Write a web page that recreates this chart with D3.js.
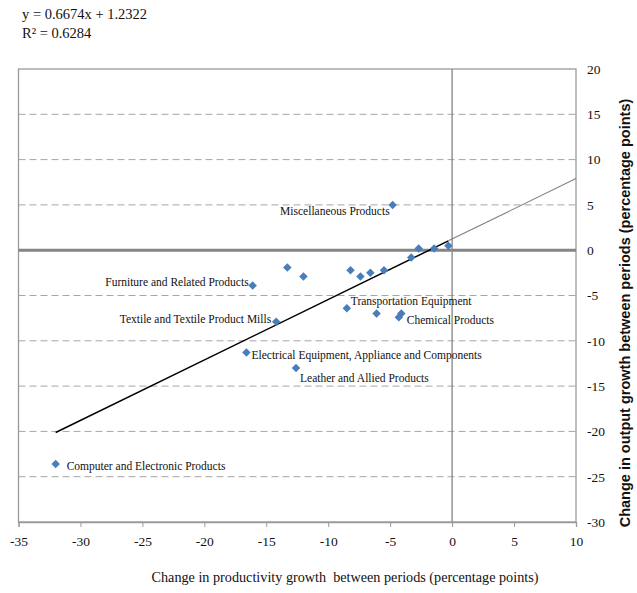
<!DOCTYPE html>
<html>
<head>
<meta charset="utf-8">
<script src="https://cdn.jsdelivr.net/npm/d3@7"></script>
<style>
  html, body { margin: 0; padding: 0; background: #fff; }
  svg { display: block; }
</style>
</head>
<body>
<svg id="chart" width="637" height="593"></svg>
<script>
// Industries (blank name = unlabelled point)
const industries = [
  "Computer and Electronic Products",
  "Electrical Equipment, Appliance and Components",
  "Leather and Allied Products",
  "Textile and Textile Product Mills",
  "Furniture and Related Products",
  "",
  "",
  "Miscellaneous Products",
  "",
  "",
  "",
  "",
  "",
  "",
  "",
  "",
  "Transportation Equipment",
  "",
  "Chemical Products",
  ""
];
// Change in productivity growth between periods (percentage points)
const productivityChange = [
  -32.0, -16.6, -12.6, -14.2, -16.1, -13.3, -12.0, -4.8, -2.7, -1.45,
  -0.3, -3.3, -8.2, -7.4, -6.6, -5.5, -8.5, -6.1, -4.3, -4.1
];
// Change in output growth between periods (percentage points)
const outputChange = [
  -23.6, -11.3, -13.0, -7.9, -3.9, -1.9, -2.9, 5.0, 0.2, 0.2,
  0.5, -0.8, -2.2, -2.9, -2.5, -2.2, -6.4, -7.0, -7.4, -7.0
];
// Axis ticks
const xTicks = [-35, -30, -25, -20, -15, -10, -5, 0, 5, 10];
const yTicks = [20, 15, 10, 5, 0, -5, -10, -15, -20, -25, -30];
// Fitted linear trend
const slope = 0.6674;
const intercept = 1.2322;
const rSquared = 0.6284;

// Where each label sits relative to its point
const labelPlacement = {
  "Computer and Electronic Products": { anchor: "start", dx: 11, dy: 3 },
  "Electrical Equipment, Appliance and Components": { anchor: "start", dx: 5, dy: 4 },
  "Leather and Allied Products": { anchor: "start", dx: 4, dy: 11 },
  "Textile and Textile Product Mills": { anchor: "end", dx: -5, dy: -1 },
  "Furniture and Related Products": { anchor: "end", dx: -4, dy: -2 },
  "Miscellaneous Products": { anchor: "end", dx: -3, dy: 7 },
  "Transportation Equipment": { anchor: "start", dx: 4, dy: -6 },
  "Chemical Products": { anchor: "start", dx: 8, dy: 4 }
};

const SERIF = "'Liberation Serif', 'Times New Roman', serif";
const svg = d3.select("#chart");
const plotLeft = 18.5, plotRight = 576, plotTop = 69, plotBottom = 522;

const x = d3.scaleLinear().domain([-35, 10]).range([plotLeft, plotRight]);
const y = d3.scaleLinear().domain([-30, 20]).range([plotBottom, plotTop]);

// Dashed horizontal gridlines
svg.append("g")
  .selectAll("line")
  .data(yTicks.filter(v => v !== 0 && v !== 20 && v !== -30))
  .join("line")
  .attr("x1", plotLeft).attr("x2", plotRight)
  .attr("y1", d => y(d)).attr("y2", d => y(d))
  .attr("stroke", "#a6a6a6")
  .attr("stroke-width", 1)
  .attr("stroke-dasharray", "7,4");

// Plot frame
svg.append("rect")
  .attr("x", plotLeft).attr("y", plotTop)
  .attr("width", plotRight - plotLeft).attr("height", plotBottom - plotTop)
  .attr("fill", "none")
  .attr("stroke", "#9a9a9a")
  .attr("stroke-width", 1.3);

// Zero lines
svg.append("line")
  .attr("x1", plotLeft).attr("x2", plotRight)
  .attr("y1", y(0)).attr("y2", y(0))
  .attr("stroke", "#858585").attr("stroke-width", 3);
svg.append("line")
  .attr("x1", x(0)).attr("x2", x(0))
  .attr("y1", plotTop).attr("y2", plotBottom)
  .attr("stroke", "#8c8c8c").attr("stroke-width", 1.4);

// Bottom axis
const xAxis = d3.axisBottom(x).tickValues(xTicks).tickSize(5).tickPadding(9)
  .tickFormat(d => String(d));
const gx = svg.append("g").attr("transform", `translate(0,${plotBottom})`).call(xAxis);
gx.attr("font-family", SERIF).attr("font-size", 13.5);
gx.select(".domain").attr("stroke", "#9a9a9a").attr("stroke-width", 1.3);
gx.selectAll(".tick line").attr("stroke", "#9a9a9a");
gx.selectAll(".tick text").attr("fill", "#111");

// Right axis
const yAxis = d3.axisRight(y).tickValues(yTicks).tickSize(0).tickPadding(11)
  .tickFormat(d => String(d));
const gy = svg.append("g").attr("transform", `translate(${plotRight},0)`).call(yAxis);
gy.attr("font-family", SERIF).attr("font-size", 13.5);
gy.select(".domain").remove();
gy.selectAll(".tick text").attr("fill", "#111");

// Trend line: solid over the data range, lighter forward extension
const xMin = d3.min(productivityChange), xMax = d3.max(productivityChange);
const trend = v => slope * v + intercept;
svg.append("line")
  .attr("x1", x(xMin)).attr("y1", y(trend(xMin)))
  .attr("x2", x(xMax)).attr("y2", y(trend(xMax)))
  .attr("stroke", "#000").attr("stroke-width", 1.5);
svg.append("line")
  .attr("x1", x(xMax)).attr("y1", y(trend(xMax)))
  .attr("x2", x(10)).attr("y2", y(trend(10)))
  .attr("stroke", "#7f7f7f").attr("stroke-width", 1.1);

// Points as diamonds
const points = industries.map((name, i) => ({
  name, px: productivityChange[i], py: outputChange[i]
}));
const diamond = d3.symbol().type(d3.symbolDiamond2).size(46);
svg.append("g")
  .selectAll("path")
  .data(points)
  .join("path")
  .attr("d", diamond)
  .attr("transform", d => `translate(${x(d.px)},${y(d.py)})`)
  .attr("fill", "#4a7ebb");

// Point labels
svg.append("g")
  .attr("font-family", SERIF)
  .attr("font-size", 11.5)
  .selectAll("text")
  .data(points.filter(d => d.name))
  .join("text")
  .attr("fill", "#111")
  .attr("x", d => x(d.px) + labelPlacement[d.name].dx)
  .attr("y", d => y(d.py) + labelPlacement[d.name].dy)
  .attr("dominant-baseline", "middle")
  .attr("text-anchor", d => labelPlacement[d.name].anchor)
  .text(d => d.name);

// Regression equation
const eq = svg.append("g").attr("font-family", SERIF).attr("font-size", 14.5).attr("fill", "#111");
eq.append("text").attr("x", 22).attr("y", 19).text(`y = ${slope}x + ${intercept}`);
eq.append("text").attr("x", 22).attr("y", 38).text(`R² = ${rSquared}`);

// Axis titles
svg.append("text")
  .attr("font-family", SERIF).attr("font-size", 14.2).attr("fill", "#111")
  .attr("x", 345).attr("y", 582)
  .attr("text-anchor", "middle")
  .style("white-space", "pre")
  .text("Change in productivity growth  between periods (percentage points)");
svg.append("text")
  .attr("transform", `translate(630,313) rotate(-90)`)
  .attr("text-anchor", "middle")
  .attr("font-family", "'Liberation Sans', Arial, sans-serif")
  .attr("font-size", 14.5)
  .attr("font-weight", "bold")
  .attr("fill", "#111")
  .text("Change in output growth between periods (percentage points)");
</script>
</body>
</html>
